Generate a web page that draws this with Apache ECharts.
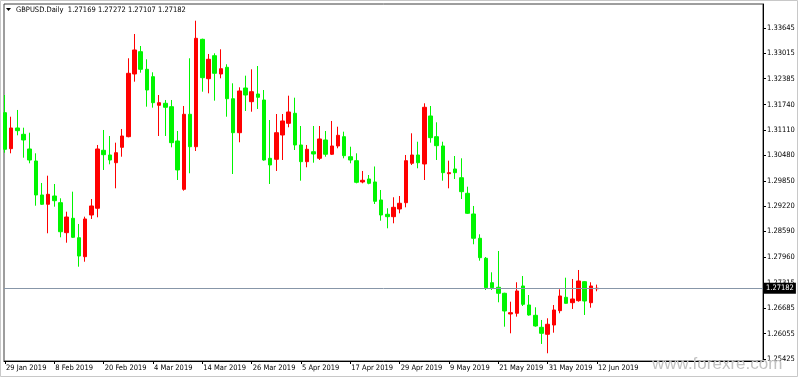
<!DOCTYPE html>
<html>
<head>
<meta charset="utf-8">
<script src="https://cdn.jsdelivr.net/npm/echarts@6/dist/echarts.min.js"></script>
<style>
html,body{margin:0;padding:0;background:#fff;}
#chart{width:800px;height:379px;}
</style>
</head>
<body>
<div id="chart"></div>
<script>
const dates = [
"29 Jan 2019","30 Jan 2019","31 Jan 2019",
"1 Feb 2019","4 Feb 2019","5 Feb 2019","6 Feb 2019","7 Feb 2019","8 Feb 2019","11 Feb 2019","12 Feb 2019","13 Feb 2019","14 Feb 2019","15 Feb 2019","18 Feb 2019","19 Feb 2019","20 Feb 2019","21 Feb 2019","22 Feb 2019","25 Feb 2019","26 Feb 2019","27 Feb 2019","28 Feb 2019",
"1 Mar 2019","4 Mar 2019","5 Mar 2019","6 Mar 2019","7 Mar 2019","8 Mar 2019","11 Mar 2019","12 Mar 2019","13 Mar 2019","14 Mar 2019","15 Mar 2019","18 Mar 2019","19 Mar 2019","20 Mar 2019","21 Mar 2019","22 Mar 2019","25 Mar 2019","26 Mar 2019","27 Mar 2019","28 Mar 2019","29 Mar 2019",
"1 Apr 2019","2 Apr 2019","3 Apr 2019","4 Apr 2019","5 Apr 2019","8 Apr 2019","9 Apr 2019","10 Apr 2019","11 Apr 2019","12 Apr 2019","15 Apr 2019","16 Apr 2019","17 Apr 2019","18 Apr 2019","19 Apr 2019","22 Apr 2019","23 Apr 2019","24 Apr 2019","25 Apr 2019","26 Apr 2019","29 Apr 2019","30 Apr 2019",
"1 May 2019","2 May 2019","3 May 2019","6 May 2019","7 May 2019","8 May 2019","9 May 2019","10 May 2019","13 May 2019","14 May 2019","15 May 2019","16 May 2019","17 May 2019","20 May 2019","21 May 2019","22 May 2019","23 May 2019","24 May 2019","27 May 2019","28 May 2019","29 May 2019","30 May 2019","31 May 2019",
"3 Jun 2019","4 Jun 2019","5 Jun 2019","6 Jun 2019","7 Jun 2019","10 Jun 2019","11 Jun 2019","12 Jun 2019"
];
const openP = [
1.31542,1.30648,1.31162,1.31005,1.30640,1.30342,1.29498,1.29267,1.29473,1.29307,
1.28562,1.28919,1.28437,1.27966,1.29001,1.29168,1.30608,1.30491,1.30300,1.30682,
1.30946,1.32503,1.33057,1.32619,1.32436,1.31725,1.31775,1.31691,1.30839,1.29639,
1.31502,1.30697,1.33364,1.32386,1.32957,1.32503,1.32669,1.31889,1.31045,1.32155,
1.31815,1.32006,1.31857,1.30409,1.30384,1.30988,1.31278,1.31527,1.30740,1.30325,
1.30573,1.30409,1.30864,1.30509,1.30715,1.30946,1.30449,1.30350,1.29821,1.29895,
1.29821,1.29374,1.29019,1.28959,1.29150,1.29307,1.30285,1.30491,1.30268,1.31460,
1.30946,1.30715,1.30027,1.30144,1.29927,1.29540,1.29026,1.28423,1.27926,1.27320,
1.27206,1.27057,1.26543,1.26560,1.27238,1.26766,1.26510,1.26212,1.26038,1.26269,
1.26625,1.26957,1.26823,1.26873,1.27345,1.26823,1.27169
];
const highP = [
1.31981,1.31442,1.31609,1.31169,1.31045,1.30533,1.29796,1.29977,1.29771,1.29416,
1.29083,1.29580,1.28778,1.28959,1.29398,1.30740,1.31112,1.30963,1.30797,1.31137,
1.32893,1.33496,1.33198,1.32868,1.32545,1.31981,1.31857,1.31857,1.31087,1.31708,
1.32893,1.33826,1.33380,1.32999,1.33017,1.33116,1.32744,1.32272,1.32172,1.32461,
1.32619,1.32701,1.32105,1.31360,1.31509,1.31509,1.31964,1.31914,1.31211,1.30740,
1.31211,1.31211,1.31087,1.31336,1.31194,1.31070,1.30697,1.30533,1.30094,1.29994,
1.30206,1.29622,1.29168,1.29441,1.29473,1.30491,1.31030,1.30821,1.31775,1.31708,
1.31303,1.30821,1.30350,1.30466,1.30409,1.29704,1.29225,1.28522,1.27958,1.27578,
1.28107,1.27070,1.26848,1.27330,1.27486,1.27014,1.26709,1.26394,1.26436,1.26766,
1.27156,1.27444,1.27412,1.27635,1.27362,1.27330,1.27272
];
const lowP = [
1.30548,1.30533,1.30980,1.30424,1.30285,1.29232,1.29249,1.28547,1.29207,1.28447,
1.28313,1.28430,1.27717,1.27841,1.28902,1.28944,1.30119,1.30260,1.29664,1.30449,
1.30930,1.32312,1.32535,1.31691,1.31666,1.30963,1.30963,1.30682,1.29870,1.29605,
1.30037,1.30590,1.32063,1.32023,1.31840,1.32396,1.31442,1.30019,1.30807,1.31584,
1.31566,1.31634,1.30350,1.29771,1.30094,1.30367,1.31179,1.30615,1.29853,1.30186,
1.30300,1.30367,1.30449,1.30491,1.30658,1.30409,1.30285,1.29788,1.29788,1.29764,
1.29274,1.28860,1.28671,1.28795,1.29043,1.29192,1.30243,1.30161,1.29870,1.30797,
1.30367,1.29853,1.29664,1.29895,1.29398,1.29026,1.28274,1.27866,1.27139,1.27139,
1.26833,1.26227,1.26063,1.26476,1.26741,1.26500,1.26227,1.25798,1.25567,1.26078,
1.26560,1.26800,1.26667,1.26848,1.26518,1.26699,1.27107
];
const closeP = [
1.30633,1.31162,1.31095,1.30864,1.30367,1.29498,1.29267,1.29515,1.29356,1.28586,
1.28951,1.28447,1.27983,1.28902,1.29225,1.30640,1.30499,1.30367,1.30548,1.30963,
1.32520,1.33099,1.32619,1.32105,1.31790,1.31790,1.31676,1.30797,1.30119,1.31502,
1.30697,1.33389,1.32411,1.32868,1.32520,1.32634,1.31889,1.31045,1.32081,1.31981,
1.32063,1.31924,1.30367,1.30243,1.31045,1.31336,1.31559,1.30740,1.30325,1.30633,
1.30516,1.30889,1.30509,1.30715,1.30980,1.30474,1.30367,1.29813,1.29863,1.29788,
1.29341,1.29001,1.28959,1.29192,1.29292,1.30350,1.30491,1.30300,1.31676,1.30921,
1.30722,1.30052,1.30052,1.30052,1.29580,1.29043,1.28423,1.27941,1.27196,1.27196,
1.27057,1.26617,1.26575,1.27114,1.26783,1.26518,1.26245,1.26063,1.26287,1.26642,
1.26990,1.26808,1.26915,1.27362,1.26865,1.27238,1.27182
];
const yTicks = [1.33645,1.33015,1.32385,1.31740,1.31110,1.30480,1.29850,1.29220,1.28590,1.27960,1.27315,1.26685,1.26055,1.25425];
const xTickIdx = [0,8,16,24,32,40,48,56,64,72,80,88,96];
const symbolName = "GBPUSD.Daily";

const FONT = "'DejaVu Sans Condensed','DejaVu Sans',sans-serif";
const n = dates.length;
const last = n - 1;
const candleData = dates.map((d, i) => [i, openP[i], closeP[i], lowP[i], highP[i]]);

const chart = echarts.init(document.getElementById('chart'), null, {renderer: 'canvas'});
const option = {
  animation: false,
  backgroundColor: '#ffffff',
  grid: {left: 4, right: 37, top: 4, bottom: 18, show: true, borderColor: '#3c3c3c', borderWidth: 1, containLabel: false, outerBoundsMode: 'none'},
  xAxis: {
    type: 'value', min: -0.16, max: 122.92,
    splitLine: {show: false},
    axisLine: {show: true, onZero: false, lineStyle: {color: '#000', width: 1}},
    axisTick: {show: true, customValues: xTickIdx, length: 3, lineStyle: {color: '#000'}},
    axisLabel: {customValues: xTickIdx, formatter: v => dates[Math.round(v)] || '', align: 'left', margin: 3,
      color: '#000', fontSize: 7.5, fontFamily: FONT, padding: [0, 0, 0, 1]}
  },
  yAxis: {
    type: 'value', position: 'right', min: 1.25375, max: 1.34241,
    splitLine: {show: false},
    axisLine: {show: true, onZero: false, lineStyle: {color: '#000', width: 1}},
    axisTick: {show: true, customValues: yTicks, length: 3, lineStyle: {color: '#000'}},
    axisLabel: {customValues: yTicks, formatter: v => v.toFixed(5), margin: 4, color: '#000', fontSize: 7.5, fontFamily: FONT}
  },
  series: [{
    type: 'candlestick',
    encode: {x: 0, y: [1, 2, 3, 4]},
    data: candleData,
    barWidth: 4,
    itemStyle: {color: '#ff0000', color0: '#00f500', borderColor: '#ff0000', borderColor0: '#00f500', borderWidth: 1},
    markLine: {
      silent: true, symbol: 'none', animation: false, precision: 5,
      lineStyle: {color: '#8796a8', type: 'solid', width: 1},
      label: {show: true, position: 'end', distance: 1, formatter: closeP[last].toFixed(5),
        backgroundColor: '#000', color: '#fff', padding: [2, 2, 1, 2], fontSize: 7.5, fontFamily: FONT},
      data: [{yAxis: closeP[last]}]
    }
  }],
  graphic: [
    {type: 'rect', z: 100, silent: true, shape: {x: 0.5, y: 0.5, width: 797, height: 376}, style: {fill: 'none', stroke: '#c8c8c8', lineWidth: 1}},
    {type: 'polygon', z: 100, silent: true, shape: {points: [[6, 8], [11, 8], [8.5, 11]]}, style: {fill: '#000'}},
    {type: 'text', z: 100, silent: true, style: {x: 16, y: 10, text: symbolName + '  ' + [openP[last], highP[last], lowP[last], closeP[last]].map(v => v.toFixed(5)).join(' '),
      fill: '#000', font: "7.5px " + FONT, verticalAlign: 'middle', align: 'left'}},
    {type: 'text', z: 100, silent: true, style: {x: 652, y: 364.5, text: 'www.forexre.com', fill: '#c2c2c2', font: "17px 'Liberation Sans', Arial, sans-serif", verticalAlign: 'middle', align: 'left'}}
  ]
};
chart.setOption(option);
</script>
</body>
</html>
